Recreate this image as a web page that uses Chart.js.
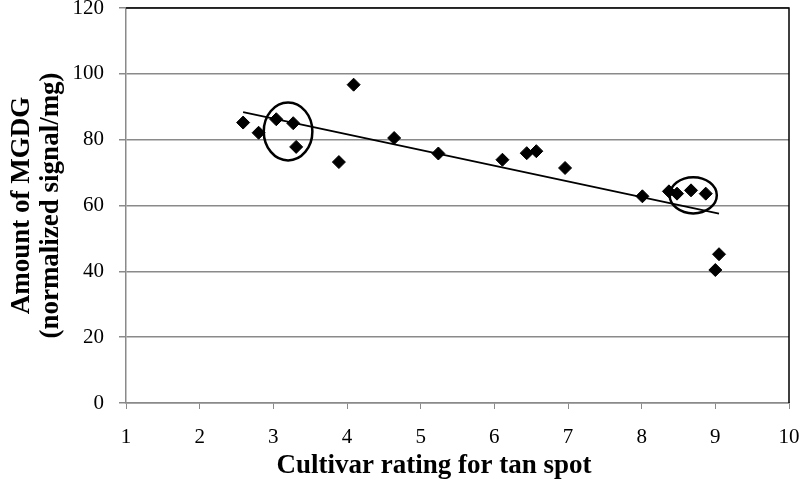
<!DOCTYPE html>
<html>
<head>
<meta charset="utf-8">
<script src="https://cdn.jsdelivr.net/npm/chart.js@4.4.0/dist/chart.umd.min.js"></script>
<style>
  html, body { margin: 0; padding: 0; background: #fff; }
</style>
</head>
<body>
<canvas id="chart" width="800" height="482"></canvas>
<script>
// cultivar rating for tan spot (x) and amount of MGDG (y)
const ratings = [2.59, 2.80, 3.04, 3.27, 3.31, 3.89, 4.09, 4.64, 5.24, 6.11,
                 6.44, 6.57, 6.96, 8.01, 8.37, 8.48, 8.67, 8.87, 9.05, 9.00]
const mgdg = [85.2, 82.1, 86.2, 85.0, 77.8, 73.2, 96.7, 80.5, 75.8, 73.9,
              75.9, 76.5, 71.4, 62.8, 64.3, 63.6, 64.6, 63.6, 45.2, 40.4]

const xTicks = [1, 2, 3, 4, 5, 6, 7, 8, 9, 10]
const yTicks = [0, 20, 40, 60, 80, 100, 120]

const xTitle = 'Cultivar rating for tan spot'
const yTitle = ['Amount of MGDG', '(normalized signal/mg)']

// hand-drawn rings round two groups of cultivars (data units)
const ringX = [3.20, 8.70]
const ringY = [82.5, 63.1]
const ringRx = [0.33, 0.32]
const ringRy = [8.8, 5.5]

const serif = "'Liberation Serif', 'Times New Roman', serif"
const gridGrey = '#8a8a8a'

// least squares trendline, like the spreadsheet one
function linearFit(xs, ys) {
  const n = xs.length
  const mx = xs.reduce((a, b) => a + b, 0) / n
  const my = ys.reduce((a, b) => a + b, 0) / n
  let sxy = 0
  let sxx = 0
  xs.forEach((x, i) => {
    sxy += (x - mx) * (ys[i] - my)
    sxx += (x - mx) * (x - mx)
  })
  const slope = sxy / sxx
  return { slope, intercept: my - slope * mx }
}

const fit = linearFit(ratings, mgdg)
const xLo = Math.min(...ratings)
const xHi = Math.max(...ratings)
const trend = [xLo, xHi].map(x => ({ x, y: fit.intercept + fit.slope * x }))

// black frame on top and right side of the plot
const framePlugin = {
  id: 'frame',
  beforeDatasetsDraw(chart) {
    const { ctx, chartArea: a } = chart
    ctx.save()
    ctx.strokeStyle = '#000'
    ctx.lineWidth = 1.5
    ctx.beginPath()
    ctx.moveTo(a.left, a.top)
    ctx.lineTo(a.right, a.top)
    ctx.lineTo(a.right, a.bottom)
    ctx.stroke()
    ctx.restore()
  }
}

const ringPlugin = {
  id: 'rings',
  afterDatasetsDraw(chart) {
    const { ctx, scales: { x, y } } = chart
    ctx.save()
    ctx.strokeStyle = '#000'
    ctx.lineWidth = 2.5
    ringX.forEach((cx, i) => {
      const px = x.getPixelForValue(cx)
      const py = y.getPixelForValue(ringY[i])
      const rx = Math.abs(x.getPixelForValue(cx + ringRx[i]) - px)
      const ry = Math.abs(y.getPixelForValue(ringY[i] + ringRy[i]) - py)
      ctx.beginPath()
      ctx.ellipse(px, py, rx, ry, 0, 0, Math.PI * 2)
      ctx.stroke()
    })
    ctx.restore()
  }
}

// x title sits a bit left of the plot centre in the original
const xTitlePlugin = {
  id: 'xTitle',
  afterDraw(chart) {
    const { ctx } = chart
    ctx.save()
    ctx.font = 'bold 27px ' + serif
    ctx.fillStyle = '#000'
    ctx.textAlign = 'center'
    ctx.textBaseline = 'middle'
    ctx.fillText(xTitle, 434, 466)
    ctx.restore()
  }
}

new Chart(document.getElementById('chart').getContext('2d'), {
  type: 'scatter',
  data: {
    datasets: [{
      data: ratings.map((x, i) => ({ x, y: mgdg[i] })),
      backgroundColor: '#000',
      borderColor: '#000',
      pointStyle: 'rectRot',
      pointRadius: 6.5,
      pointHoverRadius: 6.5,
      order: 0
    }, {
      type: 'line',
      data: trend,
      borderColor: '#000',
      borderWidth: 1.8,
      pointRadius: 0,
      fill: false,
      order: 1
    }]
  },
  options: {
    responsive: false,
    animation: false,
    events: [],
    layout: { padding: { top: 8, right: 11, bottom: 0, left: 0 } },
    plugins: { legend: { display: false }, tooltip: { enabled: false } },
    scales: {
      x: {
        type: 'linear',
        min: xTicks[0],
        max: xTicks[xTicks.length - 1],
        afterBuildTicks(scale) { scale.ticks = xTicks.map(v => ({ value: v })) },
        afterFit(scale) {
          scale.height = 79
          scale.paddingLeft = 0
          scale.paddingRight = 0
        },
        ticks: { color: '#000', font: { family: serif, size: 21 }, padding: 16, maxRotation: 0 },
        grid: { drawOnChartArea: false, color: gridGrey, tickLength: 6 },
        border: { color: gridGrey, width: 1.5 },
        title: { display: false }
      },
      y: {
        min: yTicks[0],
        max: yTicks[yTicks.length - 1],
        afterBuildTicks(scale) { scale.ticks = yTicks.map(v => ({ value: v })) },
        afterFit(scale) {
          scale.width = 126
          scale.paddingTop = 0
          scale.paddingBottom = 0
        },
        ticks: { color: '#000', font: { family: serif, size: 21 }, padding: 15 },
        grid: { color: gridGrey, lineWidth: 1.5, tickLength: 7 },
        border: { color: gridGrey, width: 1.5 },
        title: {
          display: true,
          text: yTitle,
          color: '#000',
          font: { family: serif, size: 27, weight: 'bold', lineHeight: 1.07 },
          padding: { top: 8, bottom: 0 }
        }
      }
    }
  },
  plugins: [framePlugin, ringPlugin, xTitlePlugin]
})
</script>
</body>
</html>
